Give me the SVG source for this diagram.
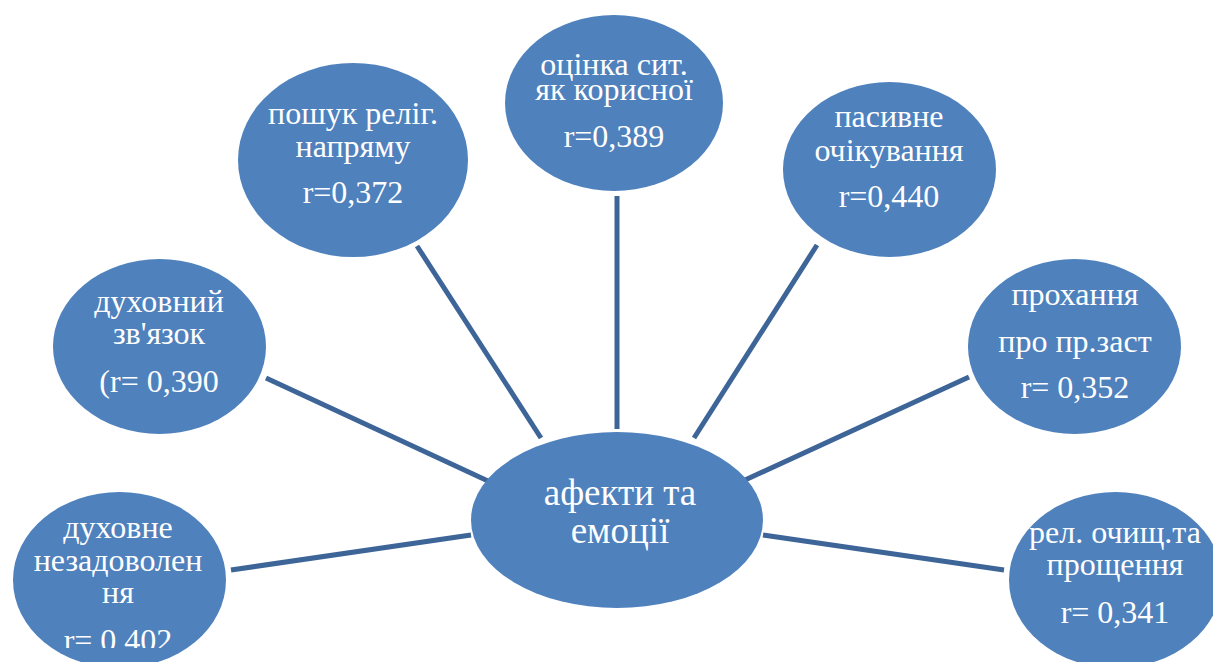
<svg xmlns="http://www.w3.org/2000/svg" width="1213" height="662" viewBox="0 0 1213 662">
<style>
.n{fill:#4F81BD;}
.c{stroke:#3D6598;stroke-width:5;fill:none;}
text{font-family:'Liberation Serif','DejaVu Serif',serif;font-size:32px;fill:#FFFFFF;text-anchor:middle;}
.tc{font-size:37px;}
</style>
<defs>
<clipPath id="clipDn"><rect x="0" y="480" width="260" height="168"/></clipPath>
</defs>
<rect width="1213" height="662" fill="#FFFFFF"/>
<g id="connectors">
<line class="c" x1="417" y1="246" x2="541" y2="438"/>
<line class="c" x1="617" y1="196" x2="617" y2="429"/>
<line class="c" x1="817" y1="245" x2="694" y2="438"/>
<line class="c" x1="266" y1="378" x2="488" y2="481"/>
<line class="c" x1="969" y1="377" x2="745" y2="480"/>
<line class="c" x1="231" y1="570" x2="471" y2="535"/>
<line class="c" x1="763" y1="535" x2="1004" y2="570"/>
</g>
<g id="node-center">
<ellipse class="n" cx="617" cy="520" rx="146" ry="88"/>
<text class="tc" x="620" y="505" font-family="Liberation Serif, serif">афекти та</text>
<text class="tc" x="620" y="543" font-family="Liberation Serif, serif">емоції</text>
</g>
<g id="node-otsinka">
<ellipse class="n" cx="614" cy="103" rx="109" ry="88"/>
<text x="614" y="75">оцінка сит.</text>
<text x="614" y="100">як корисної</text>
<text x="614" y="147">r=0,389</text>
</g>
<g id="node-poshuk">
<ellipse class="n" cx="353" cy="160" rx="115" ry="97"/>
<text x="353" y="124">пошук реліг.</text>
<text x="353" y="157">напряму</text>
<text x="353" y="203">r=0,372</text>
</g>
<g id="node-pasyvne">
<ellipse class="n" cx="889.5" cy="169.5" rx="106.5" ry="87.5"/>
<text x="889" y="127">пасивне</text>
<text x="889" y="161">очікування</text>
<text x="889" y="207">r=0,440</text>
</g>
<g id="node-dukhovnyi">
<ellipse class="n" cx="159.5" cy="346.5" rx="106.5" ry="87.5"/>
<text x="159" y="312">духовний</text>
<text x="159" y="344">зв'язок</text>
<text x="159" y="392">(r= 0,390</text>
</g>
<g id="node-prokhannia">
<ellipse class="n" cx="1074.5" cy="346.5" rx="106.5" ry="87.5"/>
<text x="1075" y="305">прохання</text>
<text x="1075" y="352">про пр.заст</text>
<text x="1075" y="398">r= 0,352</text>
</g>
<g id="node-dukhovne">
<ellipse class="n" cx="119.5" cy="580" rx="106.5" ry="88"/>
<g clip-path="url(#clipDn)">
<text x="118" y="538">духовне</text>
<text x="118" y="571">незадоволен</text>
<text x="118" y="603">ня</text>
<text x="118" y="651">r= 0,402</text>
</g>
</g>
<g id="node-rel">
<ellipse class="n" cx="1115.5" cy="580" rx="106.5" ry="88"/>
<text x="1115" y="543">рел. очищ.та</text>
<text x="1115" y="575">прощення</text>
<text x="1115" y="623">r= 0,341</text>
</g>
</svg>
